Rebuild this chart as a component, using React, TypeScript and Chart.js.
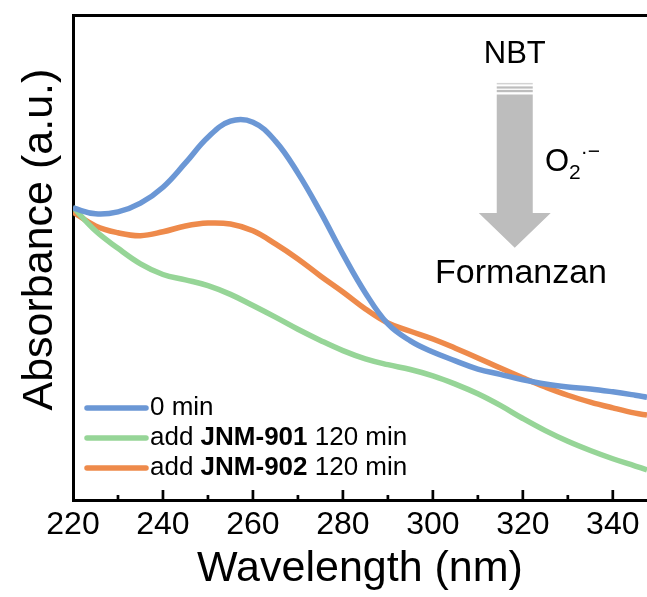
import { useEffect, useRef } from "react";
import { Chart, registerables } from "chart.js";

Chart.register(...registerables);

// ---- data ----
const wavelengths = [220, 225, 230, 235, 240, 245, 250, 255, 260, 265, 270, 275, 280, 285, 290, 295, 300, 305, 310, 315, 320, 325, 330, 335, 340, 345, 347.6];
const zeroMinAbs = [0.602, 0.59, 0.594, 0.612, 0.645, 0.695, 0.748, 0.781, 0.779, 0.74, 0.674, 0.594, 0.507, 0.427, 0.363, 0.328, 0.305, 0.287, 0.27, 0.259, 0.248, 0.239, 0.233, 0.229, 0.223, 0.216, 0.212];
const jnm901Abs = [0.604, 0.555, 0.519, 0.487, 0.465, 0.454, 0.442, 0.424, 0.401, 0.377, 0.352, 0.329, 0.308, 0.291, 0.279, 0.269, 0.256, 0.239, 0.219, 0.195, 0.168, 0.143, 0.121, 0.102, 0.085, 0.07, 0.062];
const jnm902Abs = [0.594, 0.565, 0.551, 0.545, 0.553, 0.565, 0.571, 0.569, 0.555, 0.528, 0.497, 0.462, 0.429, 0.394, 0.365, 0.348, 0.332, 0.313, 0.293, 0.272, 0.252, 0.233, 0.216, 0.202, 0.19, 0.179, 0.175];

const xMin = 220;
const xMax = 347.6;
const xTickLabels = [220, 240, 260, 280, 300, 320, 340];
const xMinorTicks = [230, 250, 270, 290, 310, 330];

const seriesNames = ["0 min", "add JNM-901 120 min", "add JNM-902 120 min"];
const legendRich = [
  [{ text: "0 min", bold: false }],
  [{ text: "add ", bold: false }, { text: "JNM-901", bold: true }, { text: " 120 min", bold: false }],
  [{ text: "add ", bold: false }, { text: "JNM-902", bold: true }, { text: " 120 min", bold: false }],
];
const seriesColors = ["#6b97d5", "#96d597", "#ee8a4b"];

// annotation anchors (data units)
const arrowX = 318.2;
const arrowStripeTopAbs = 0.86;
const arrowHeadTopAbs = 0.592;
const arrowTipAbs = 0.52;
const nbtLabel = { text: "NBT", x: 318.2, y: 0.918 };
const radicalLabel = { x: 324.9, y: 0.678 };
const formanzanLabel = { text: "Formanzan", x: 319.6, y: 0.466 };

const FONT = "'Liberation Sans', Arial, sans-serif";

const toPoints = (xs: number[], ys: number[]) => xs.map((x, i) => ({ x, y: ys[i] }));

const inwardTicks = {
  id: "inwardTicks",
  afterDraw(chart: any) {
    const { ctx, chartArea } = chart;
    const xs = chart.scales.x;
    ctx.save();
    ctx.strokeStyle = "#000";
    ctx.lineWidth = 2.7;
    const draw = (v: number, len: number) => {
      const px = xs.getPixelForValue(v);
      ctx.beginPath();
      ctx.moveTo(px, chartArea.bottom);
      ctx.lineTo(px, chartArea.bottom - len);
      ctx.stroke();
    };
    xTickLabels.filter((v) => v > xMin).forEach((v) => draw(v, 10));
    xMinorTicks.forEach((v) => draw(v, 5));
    ctx.restore();
  },
};

const richLegend = {
  id: "richLegend",
  afterDatasetsDraw(chart: any) {
    const { ctx, chartArea } = chart;
    ctx.save();
    const rows = [chartArea.bottom - 92, chartArea.bottom - 62, chartArea.bottom - 32];
    chart.data.datasets.forEach((ds: any, i: number) => {
      const y = rows[i];
      ctx.strokeStyle = ds.borderColor;
      ctx.lineWidth = 5.5;
      ctx.lineCap = "round";
      ctx.beginPath();
      ctx.moveTo(chartArea.left + 14, y);
      ctx.lineTo(chartArea.left + 73, y);
      ctx.stroke();
      let tx = chartArea.left + 77;
      ctx.fillStyle = "#000";
      ctx.textBaseline = "middle";
      ctx.textAlign = "left";
      legendRich[i].forEach((seg) => {
        ctx.font = `${seg.bold ? "bold " : ""}26px ${FONT}`;
        ctx.fillText(seg.text, tx, y);
        tx += ctx.measureText(seg.text).width;
      });
    });
    ctx.restore();
  },
};

const reactionArrow = {
  id: "reactionArrow",
  afterDatasetsDraw(chart: any) {
    const { ctx } = chart;
    const xs = chart.scales.x;
    const ys = chart.scales.y;
    const cx = xs.getPixelForValue(arrowX);
    const top = ys.getPixelForValue(arrowStripeTopAbs);
    const headTop = ys.getPixelForValue(arrowHeadTopAbs);
    const tip = ys.getPixelForValue(arrowTipAbs);
    const sw = 18;
    const hw = 36;
    ctx.save();
    ctx.fillStyle = "#d3d3d3";
    ctx.fillRect(cx - sw, top, sw * 2, 1.5);
    ctx.fillStyle = "#bdbdbd";
    ctx.fillRect(cx - sw, top + 3.5, sw * 2, 2.2);
    ctx.fillRect(cx - sw, top + 7, sw * 2, 2.3);
    ctx.beginPath();
    ctx.moveTo(cx - sw, top + 11.5);
    ctx.lineTo(cx + sw, top + 11.5);
    ctx.lineTo(cx + sw, headTop);
    ctx.lineTo(cx + hw, headTop);
    ctx.lineTo(cx, tip);
    ctx.lineTo(cx - hw, headTop);
    ctx.lineTo(cx - sw, headTop);
    ctx.closePath();
    ctx.fill();

    ctx.fillStyle = "#000";
    ctx.textAlign = "center";
    ctx.textBaseline = "middle";
    ctx.font = `31px ${FONT}`;
    ctx.fillText(nbtLabel.text, xs.getPixelForValue(nbtLabel.x), ys.getPixelForValue(nbtLabel.y));

    ctx.font = `34px ${FONT}`;
    ctx.fillText(formanzanLabel.text, xs.getPixelForValue(formanzanLabel.x), ys.getPixelForValue(formanzanLabel.y));

    // O2·−
    const ox = xs.getPixelForValue(radicalLabel.x);
    const base = ys.getPixelForValue(radicalLabel.y);
    ctx.textAlign = "left";
    ctx.textBaseline = "alphabetic";
    ctx.font = `31px ${FONT}`;
    ctx.fillText("O", ox, base);
    let w = ctx.measureText("O").width;
    ctx.font = `21px ${FONT}`;
    ctx.fillText("2", ox + w, base + 8);
    w += ctx.measureText("2").width;
    ctx.fillText("·−", ox + w, base - 13);
    ctx.restore();
  },
};

export default function App() {
  const ref = useRef<HTMLCanvasElement | null>(null);
  useEffect(() => {
    document.body.style.margin = "0";
    if (!ref.current) return;
    const chart = new Chart(ref.current, {
      type: "line",
      data: {
        datasets: [
          { label: seriesNames[0], data: toPoints(wavelengths, zeroMinAbs), borderColor: seriesColors[0] },
          { label: seriesNames[1], data: toPoints(wavelengths, jnm901Abs), borderColor: seriesColors[1] },
          { label: seriesNames[2], data: toPoints(wavelengths, jnm902Abs), borderColor: seriesColors[2] },
        ].map((d) => ({
          ...d,
          borderWidth: 5.5,
          pointRadius: 0,
          fill: false,
          tension: 0.4,
        })),
      },
      options: {
        animation: false,
        responsive: false,
        layout: { padding: 0 },
        plugins: { legend: { display: false }, tooltip: { enabled: false } },
        scales: {
          x: {
            type: "linear",
            min: xMin,
            max: xMax,
            afterBuildTicks: (s: any) => {
              s.ticks = xTickLabels.map((v) => ({ value: v }));
            },
            ticks: {
              autoSkip: false,
              maxRotation: 0,
              padding: 6,
              color: "#000",
              font: { family: FONT, size: 32 },
              callback: (v: any) => String(v),
            },
            grid: { display: false, drawTicks: false },
            border: { display: true, color: "#000", width: 3 },
            title: {
              display: true,
              text: "Wavelength (nm)",
              color: "#000",
              font: { family: FONT, size: 43 },
              padding: { top: 0, bottom: 2 },
            },
            afterFit: (s: any) => {
              s.height = 97;
            },
          },
          x2: {
            type: "linear",
            position: "top",
            min: xMin,
            max: xMax,
            ticks: { display: false },
            grid: { display: false, drawTicks: false },
            border: { display: true, color: "#000", width: 3 },
            afterFit: (s: any) => {
              s.height = 15;
            },
          },
          y: {
            type: "linear",
            min: 0,
            max: 1,
            ticks: { display: false },
            grid: { display: false, drawTicks: false },
            border: { display: true, color: "#000", width: 3 },
            title: {
              display: true,
              text: "   Absorbance (a.u.)",
              color: "#000",
              font: { family: FONT, size: 43 },
              padding: { top: 14, bottom: 0 },
            },
            afterFit: (s: any) => {
              s.width = 73;
            },
          },
        },
      },
      plugins: [inwardTicks, richLegend, reactionArrow],
    });
    return () => chart.destroy();
  }, []);
  return (
    <div style={{ width: 647, height: 597 }}>
      <canvas ref={ref} width={647} height={597} style={{ display: "block" }} />
    </div>
  );
}
